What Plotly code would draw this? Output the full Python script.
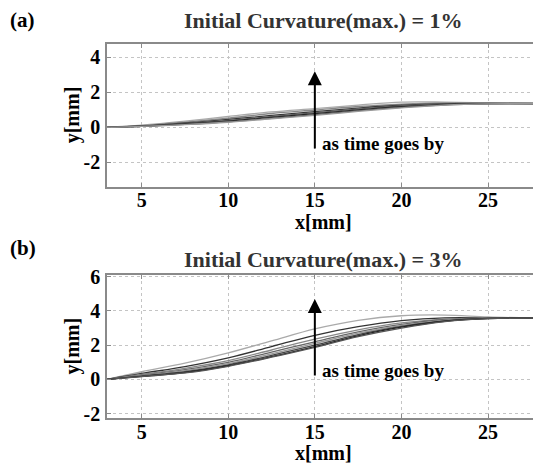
import plotly.graph_objects as go

# ---------------- data ----------------
x_pts = [3, 5, 7.5, 10, 12.5, 15, 17.5, 20, 22.5, 25, 28]

# panel (a): initial curvature 1%
a_curves = [
    [0, 0.12, 0.35, 0.62, 0.88, 1.07, 1.27, 1.44, 1.44, 1.40, 1.37],
    [0, 0.10, 0.30, 0.53, 0.79, 0.99, 1.19, 1.33, 1.40, 1.38, 1.36],
    [0, 0.08, 0.25, 0.45, 0.68, 0.90, 1.10, 1.26, 1.35, 1.37, 1.36],
    [0, 0.07, 0.22, 0.40, 0.62, 0.84, 1.05, 1.22, 1.33, 1.36, 1.36],
    [0, 0.06, 0.20, 0.36, 0.57, 0.78, 1.00, 1.18, 1.30, 1.35, 1.35],
    [0, 0.05, 0.17, 0.32, 0.52, 0.73, 0.95, 1.14, 1.28, 1.34, 1.35],
    [0, 0.05, 0.15, 0.29, 0.49, 0.68, 0.91, 1.11, 1.27, 1.34, 1.35],
]
# panel (b): initial curvature 3%
b_curves = [
    [0, 0.45, 0.95, 1.55, 2.25, 2.95, 3.45, 3.72, 3.76, 3.65, 3.58],
    [0, 0.35, 0.75, 1.26, 1.92, 2.58, 3.08, 3.43, 3.60, 3.60, 3.58],
    [0, 0.30, 0.65, 1.10, 1.72, 2.35, 2.90, 3.30, 3.52, 3.60, 3.58],
    [0, 0.25, 0.58, 1.00, 1.60, 2.20, 2.78, 3.22, 3.50, 3.60, 3.58],
    [0, 0.22, 0.52, 0.92, 1.50, 2.10, 2.70, 3.15, 3.45, 3.58, 3.58],
    [0, 0.20, 0.45, 0.85, 1.40, 2.00, 2.62, 3.10, 3.42, 3.57, 3.58],
    [0, 0.18, 0.40, 0.80, 1.33, 1.92, 2.55, 3.05, 3.40, 3.56, 3.58],
    [0, 0.17, 0.38, 0.77, 1.30, 1.88, 2.50, 3.00, 3.38, 3.55, 3.58],
]
a_colors = ["#aaaaaa", "#888888", "#333333", "#666666", "#222222", "#555555", "#999999"]
b_colors = ["#aaaaaa", "#333333", "#888888", "#666666", "#999999", "#444444", "#222222", "#555555"]

x_ticks = [5, 10, 15, 20, 25]
x_ticklabels = ["5", "10", "15", "20", "25"]
a_yticks = [-2, 0, 2, 4]
a_yticklabels = ["-2", "0", "2", "4"]
b_yticks = [-2, 0, 2, 4, 6]
b_yticklabels = ["-2", "0", "2", "4", "6"]
titles = ["Initial Curvature(max.) = 1%", "Initial Curvature(max.) = 3%"]
panel_labels = ["(a)", "(b)"]
x_label = "x[mm]"
y_label = "y[mm]"
arrow_a = [15, -1.3, 3.2]   # x, tail y, tip y
arrow_b = [15, 0.15, 4.7]
note = "as time goes by"

FONT = "Liberation Serif"
BOLD20 = dict(family=FONT, size=20, color="black", weight="bold")

fig = go.Figure()
for ys, c in zip(a_curves, a_colors):
    fig.add_trace(go.Scatter(x=x_pts, y=ys, mode="lines", xaxis="x", yaxis="y",
                             line=dict(color=c, width=1.3, shape="spline"), showlegend=False))
for ys, c in zip(b_curves, b_colors):
    fig.add_trace(go.Scatter(x=x_pts, y=ys, mode="lines", xaxis="x2", yaxis="y2",
                             line=dict(color=c, width=1.3, shape="spline"), showlegend=False))


def ax(**kw):
    d = dict(
        showline=True, linecolor="#8a8a8a", linewidth=1.5, mirror="ticks",
        ticks="inside", ticklen=4, tickcolor="#8a8a8a",
        showgrid=True, gridcolor="#c4c4c4", griddash="dot", gridwidth=1,
        zeroline=False, automargin=False,
        tickfont=dict(BOLD20),
    )
    d.update(kw)
    return d


# page body has an 8px margin, so the figure is sized to fit the window
fig.update_layout(
    width=533, height=457,
    font=dict(family=FONT),
    margin=dict(l=99, r=1, t=36, b=47),
    plot_bgcolor="white", paper_bgcolor="white",
    xaxis=ax(domain=[0, 1], range=[3, 28], tickvals=x_ticks, ticktext=x_ticklabels, anchor="y",
             ticklabelstandoff=-5),
    yaxis=ax(domain=[0.6185, 1], range=[-3.39, 4.76], tickvals=a_yticks, ticktext=a_yticklabels,
             anchor="x", ticklabelstandoff=1),
    xaxis2=ax(domain=[0, 1], range=[3, 28], tickvals=x_ticks, ticktext=x_ticklabels, anchor="y2",
              ticklabelstandoff=-5),
    yaxis2=ax(domain=[0, 0.3824], range=[-2.25, 6.1], tickvals=b_yticks, ticktext=b_yticklabels,
              anchor="x2", ticklabelstandoff=1),
)

# axis titles
for xr, yr in [("x", "y"), ("x2", "y2")]:
    fig.add_annotation(x=0.5, y=0, xref=xr + " domain", yref=yr + " domain", text=x_label,
                       showarrow=False, xanchor="center", yanchor="middle", yshift=-35,
                       font=dict(BOLD20))
    fig.add_annotation(x=0, y=0.5, xref=xr + " domain", yref=yr + " domain", text=y_label,
                       showarrow=False, xanchor="center", yanchor="middle", xshift=-35,
                       textangle=-90, font=dict(BOLD20))

# arrows and notes
for (xr, yr), arr in [(("x", "y"), arrow_a), (("x2", "y2"), arrow_b)]:
    fig.add_annotation(x=arr[0], y=arr[2], ax=arr[0], ay=arr[1], xref=xr, yref=yr,
                       axref=xr, ayref=yr, showarrow=True, arrowhead=2, arrowsize=1.4,
                       arrowwidth=2, arrowcolor="black", text="")
    fig.add_annotation(x=arr[0] + 0.3, y=arr[1] + 0.4, xref=xr, yref=yr, text=note,
                       showarrow=False, xanchor="left", yanchor="middle",
                       font=dict(family=FONT, size=19, color="black", weight="bold"))

# titles and panel labels
for ty, ly, t, lab in [(1.064, 1.064, titles[0], panel_labels[0]), (0.423, 0.455, titles[1], panel_labels[1])]:
    fig.add_annotation(x=0.5, y=ty, xref="paper", yref="paper", text=t, showarrow=False,
                       xanchor="center", yanchor="middle",
                       font=dict(family=FONT, size=22, color="#333333", weight="bold"))
    fig.add_annotation(x=-0.228, y=ly, xref="paper", yref="paper", text=lab, showarrow=False,
                       xanchor="left", yanchor="middle",
                       font=dict(family=FONT, size=21, color="black", weight="bold"))

fig.write_html("out.html")
